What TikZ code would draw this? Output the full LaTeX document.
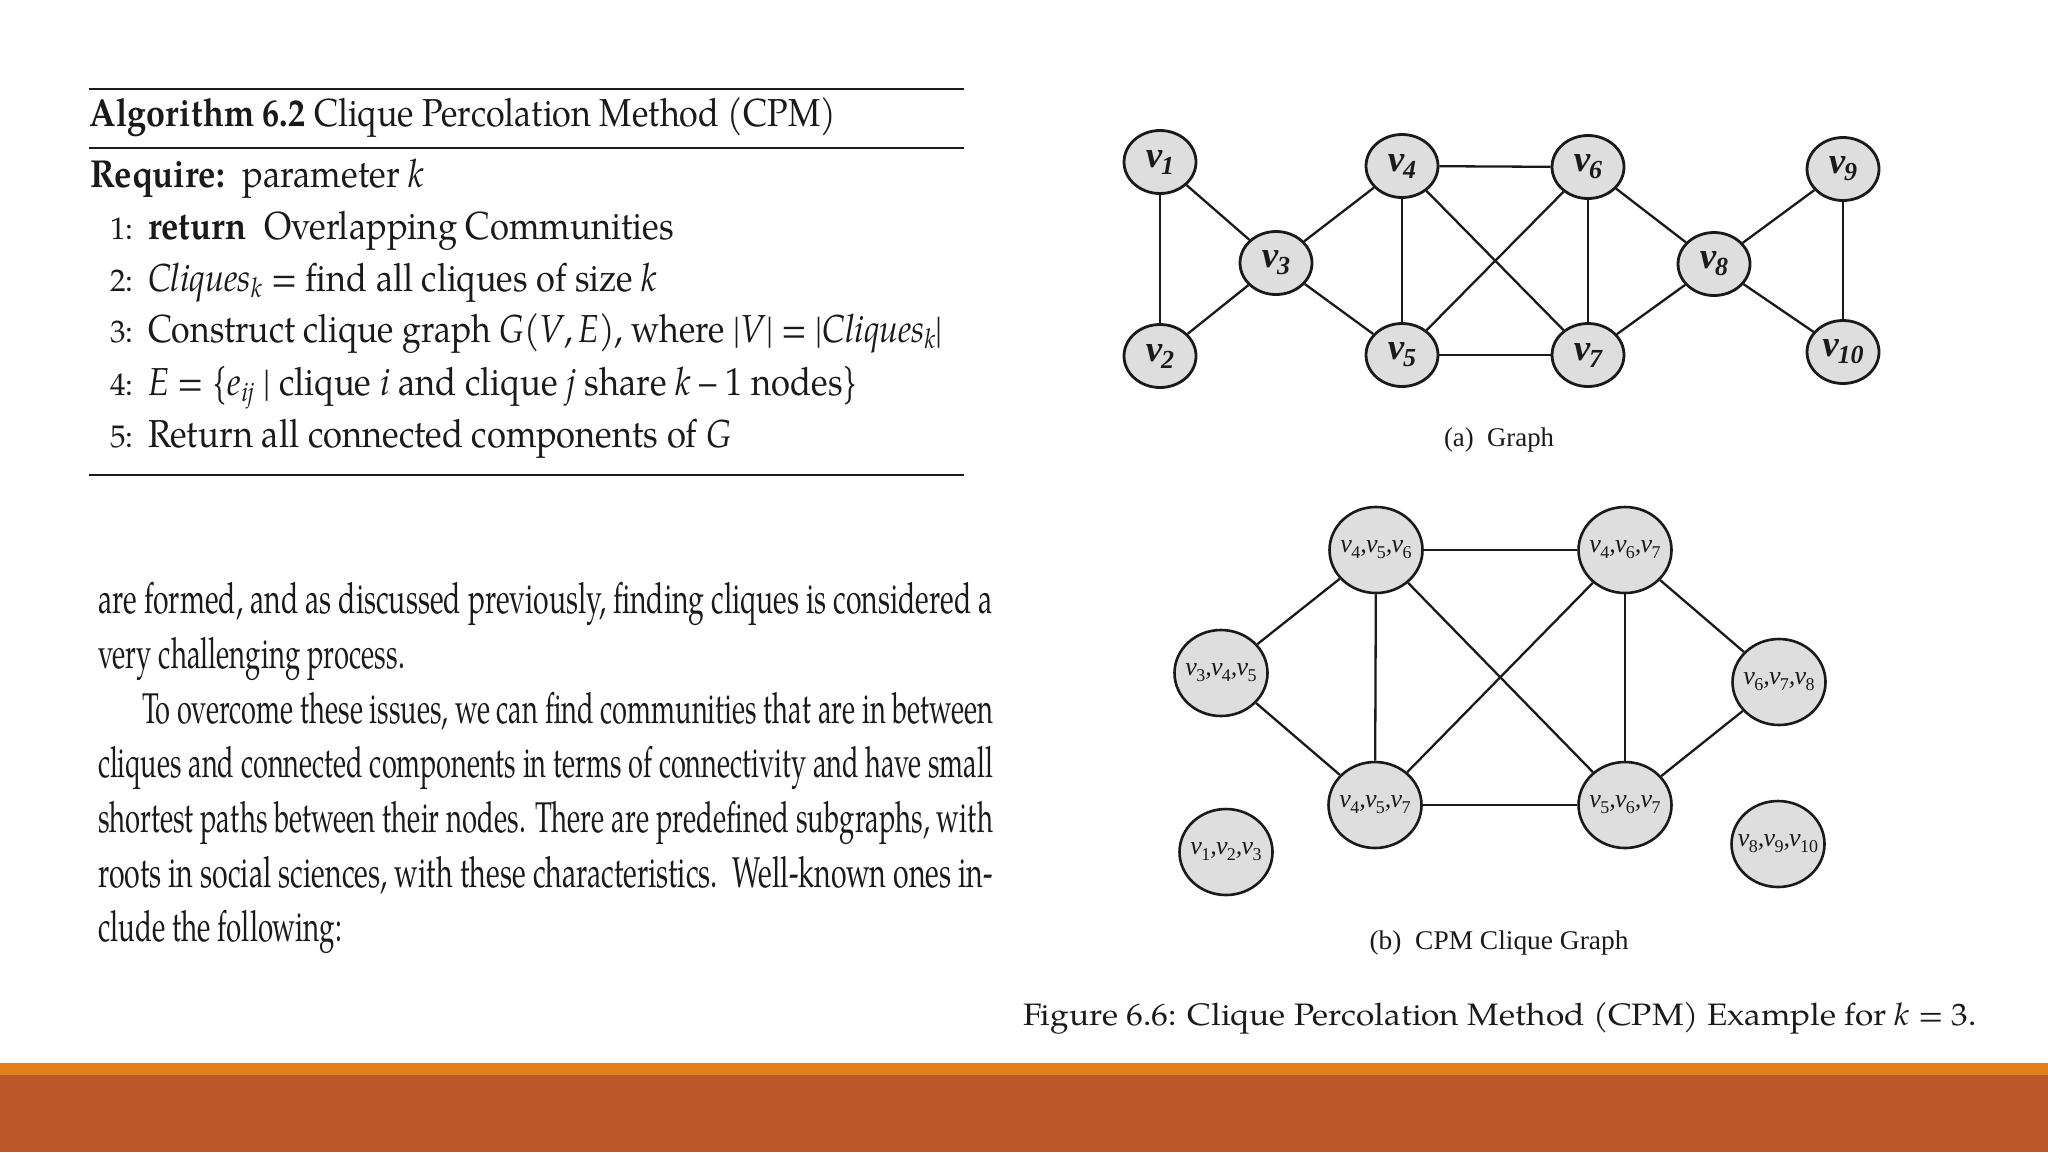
\documentclass[tikz,border=0pt]{standalone}
\usepackage{fontspec}
\setmainfont{TeX Gyre Pagella}
\newfontfamily\timesf{Liberation Serif}
\usepackage{graphicx}
\usetikzlibrary{shapes.geometric}
\newdimen\pxu \pxu=0.5pt
\newcommand{\fitw}[2]{\resizebox{#1\pxu}{\height}{#2}}
\newcommand{\va}[1]{\makebox[0pt]{v\kern-0.5pt\raisebox{-3.5pt}{\fontsize{13}{13}\selectfont #1}}}
\newcommand{\vb}[1]{v\kern-0.3pt\raisebox{-3pt}{\upshape\fontsize{9}{9}\selectfont #1}}
\newcommand{\vtrip}[3]{\makebox[0pt]{\vb{#1},\kern-0.4pt\vb{#2},\kern-0.4pt\vb{#3}}}
\newcommand{\isub}[1]{\textsubscript{\itshape #1}}
\definecolor{ink}{HTML}{1A1A1A}
\definecolor{nodegray}{HTML}{DEDEDE}
\definecolor{orlight}{HTML}{E2811A}
\definecolor{ordark}{HTML}{BC572A}
\begin{document}
\begin{tikzpicture}[x=0.5pt,y=-0.5pt,
  txt/.style={anchor=base west, inner sep=0pt, outer sep=0pt, text=ink},
  algf/.style={font=\fontsize{19.5}{19.5}\selectfont},
  numf/.style={font=\fontsize{15.6}{15.6}\selectfont},
  parf/.style={font=\fontsize{21.5}{21.5}\selectfont},
  gnode/.style={ellipse, draw=ink, line width=1.4pt, fill=nodegray, minimum width=36pt, minimum height=31.5pt, inner sep=0pt, text=ink, font=\timesf\fontsize{18.5}{18.5}\selectfont\bfseries\itshape},
  cnode/.style={ellipse, draw=ink, line width=1.3pt, fill=nodegray, minimum width=46.5pt, minimum height=43pt, inner sep=0pt, text=ink, font=\timesf\fontsize{13}{13}\selectfont\itshape},
  edge/.style={draw=ink, line width=1.15pt},
  sublabel/.style={anchor=base, inner sep=0pt, text=ink, font=\timesf\fontsize{13.5}{13.5}\selectfont}
]
\useasboundingbox (0,0) rectangle (2048,1152);
\fill[white] (0,0) rectangle (2048,1152);

% ---------- Algorithm box ----------
\draw[ink, line width=1.35pt] (89,89) -- (964,89);
\draw[ink, line width=0.85pt] (89,148) -- (964,148);
\draw[ink, line width=0.85pt] (89,475) -- (964,475);

\node[txt, algf] (title) at (90,126.7) {\fitw{746}{\textbf{Algorithm 6.2} Clique Percolation Method (CPM)}};
\node[txt, algf] (req) at (90,187) {\fitw{334}{\textbf{Require:}\enspace parameter \textit{k}}};

\node[txt, numf] (n1) at (110,239) {1:};
\node[txt, numf] (n2) at (110,291) {2:};
\node[txt, numf] (n3) at (110,342) {3:};
\node[txt, numf] (n4) at (110,395) {4:};
\node[txt, numf] (n5) at (110,447) {5:};

\node[txt, algf] (l1) at (148,239) {\fitw{526}{\textbf{return}\enspace Overlapping Communities}};
\node[txt, algf] (l2) at (148,291) {\fitw{509}{\textit{Cliques}\isub{k} = find all cliques of size \textit{k}}};
\node[txt, algf] (l3) at (148,342) {\fitw{795}{Construct clique graph \textit{G}(\textit{V},\,\textit{E}), where |\textit{V}| = |\textit{Cliques}\isub{k}|}};
\node[txt, algf] (l4) at (148,395) {\fitw{710}{\textit{E} = \{\textit{e}\isub{ij} | clique \textit{i} and clique \textit{j} share \textit{k} – 1 nodes\}}};
\node[txt, algf] (l5) at (148,447) {\fitw{583}{Return all connected components of \textit{G}}};

% ---------- Paragraph ----------
\node[txt, parf] (p1) at (98,613) {\fitw{895}{are formed, and as discussed previously, finding cliques is considered a}};
\node[txt, parf] (p2) at (98,668) {\fitw{307}{very challenging process.}};
\node[txt, parf] (p3) at (142,723) {\fitw{851}{To overcome these issues, we can find communities that are in between}};
\node[txt, parf] (p4) at (98,777) {\fitw{895}{cliques and connected components in terms of connectivity and have small}};
\node[txt, parf] (p5) at (98,832) {\fitw{895}{shortest paths between their nodes. There are predefined subgraphs, with}};
\node[txt, parf] (p6) at (98,887) {\fitw{895}{roots in social sciences, with these characteristics.\ \ Well-known ones in-}};
\node[txt, parf] (p7) at (98,941) {\fitw{244}{clude the following:}};

% ---------- Graph (a) ----------
\node[gnode] (v1) at (1160,162) {\va{1}};
\node[gnode] (v2) at (1160,356) {\va{2}};
\node[gnode] (v3) at (1276,263) {\va{3}};
\node[gnode] (v4) at (1402,166) {\va{4}};
\node[gnode] (v5) at (1402,355) {\va{5}};
\node[gnode] (v6) at (1588,167) {\va{6}};
\node[gnode] (v7) at (1588,355) {\va{7}};
\node[gnode] (v8) at (1714,264) {\va{8}};
\node[gnode] (v9) at (1843,169) {\va{9}};
\node[gnode] (v10) at (1843,352) {\va{10}};
\draw[edge] (v1) -- (v2);
\draw[edge] (v1) -- (v3);
\draw[edge] (v2) -- (v3);
\draw[edge] (v3) -- (v4);
\draw[edge] (v3) -- (v5);
\draw[edge] (v4) -- (v5);
\draw[edge] (v4) -- (v6);
\draw[edge] (v4) -- (v7);
\draw[edge] (v5) -- (v6);
\draw[edge] (v5) -- (v7);
\draw[edge] (v6) -- (v7);
\draw[edge] (v6) -- (v8);
\draw[edge] (v7) -- (v8);
\draw[edge] (v8) -- (v9);
\draw[edge] (v8) -- (v10);
\draw[edge] (v9) -- (v10);
\node[sublabel] (capa) at (1499,446) {\fitw{110}{(a)\ \ Graph}};

% ---------- Graph (b) ----------
\node[cnode] (c456) at (1376,550) {\vtrip{4}{5}{6}};
\node[cnode] (c467) at (1625,550) {\vtrip{4}{6}{7}};
\node[cnode] (c345) at (1221,673) {\vtrip{3}{4}{5}};
\node[cnode] (c678) at (1779,682) {\vtrip{6}{7}{8}};
\node[cnode] (c457) at (1375,805) {\vtrip{4}{5}{7}};
\node[cnode] (c567) at (1625,805) {\vtrip{5}{6}{7}};
\node[cnode] (c123) at (1226,852) {\vtrip{1}{2}{3}};
\node[cnode] (c8910) at (1778,844) {\vtrip{8}{9}{10}};
\draw[edge] (c456) -- (c467);
\draw[edge] (c456) -- (c345);
\draw[edge] (c456) -- (c457);
\draw[edge] (c456) -- (c567);
\draw[edge] (c467) -- (c457);
\draw[edge] (c467) -- (c567);
\draw[edge] (c467) -- (c678);
\draw[edge] (c345) -- (c457);
\draw[edge] (c457) -- (c567);
\draw[edge] (c567) -- (c678);
\node[sublabel] (capb) at (1499,949) {\fitw{259}{(b)\ \ CPM Clique Graph}};

% ---------- Figure caption ----------
\node[txt, font=\fontsize{15.5}{15.5}\selectfont] (figcap) at (1023,1025) {\fitw{954}{Figure 6.6: Clique Percolation Method (CPM) Example for \textit{k} = 3.}};

% ---------- Bottom bands ----------
\fill[orlight] (0,1063) rectangle (2048,1075);
\fill[ordark] (0,1075) rectangle (2048,1152);
\end{tikzpicture}
\end{document}
